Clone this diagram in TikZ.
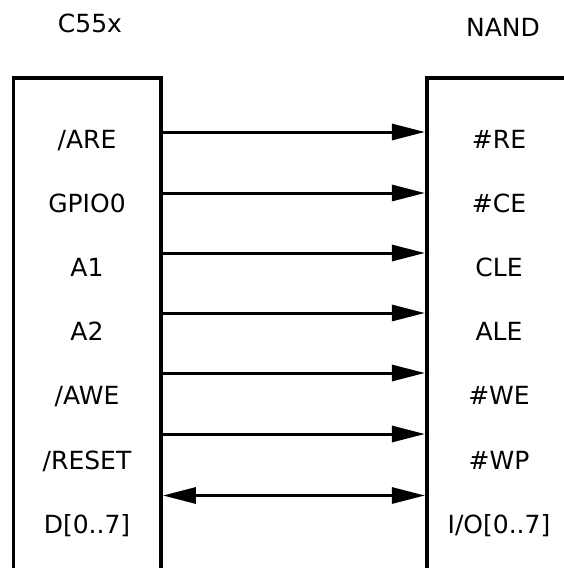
\documentclass[tikz,border=0pt]{standalone}
\usepackage{fontspec}
\setmainfont{DejaVu Sans}
\usetikzlibrary{arrows.meta}
\begin{document}
\begin{tikzpicture}[x=1pt,y=-1pt,
  chip/.style={draw, line width=3.6pt, rectangle, anchor=north west, inner sep=0pt,
               minimum width=147.6pt, minimum height=560pt},
  lbl/.style={anchor=base, inner sep=0pt, font=\fontsize{25}{30}\selectfont},
  head/.tip={Triangle[length=33pt,width=16pt]},
  sig/.style={line width=3pt, -head},
  bus/.style={line width=3pt, head-head}]
\useasboundingbox (0,0) rectangle (564,568);
\clip (0,0) rectangle (564,568);

% chip outlines (both run past the bottom edge)
\node[chip] (cpu)  at (11.7,75.9) {};
\node[chip] (nand) at (424.9,76.2) {};

% titles
\node[lbl] (tcpu)  at (90,32)  {C55x};
\node[lbl] (tnand) at (503,36) {NAND};

% pin labels
\foreach \i/\a/\b in {0/{/ARE}/{\#RE}, 1/{GPIO0}/{\#CE}, 2/{A1}/{CLE}, 3/{A2}/{ALE},
                      4/{/AWE}/{\#WE}, 5/{/RESET}/{\#WP}, 6/{D[0..7]}/{I/O[0..7]}} {
  \node[lbl] (cpin\i) at (87,148+64.2*\i)  {\a};
  \node[lbl] (npin\i) at (499,148+64.2*\i) {\b};
}

% control lines
\foreach \i/\y in {0/132, 1/193, 2/253, 3/313, 4/373, 5/434}
  \draw[sig] (cpu.east |- 0,\y) -- (nand.west |- 0,\y);

% data bus
\draw[bus] (cpu.east |- 0,495.5) -- (nand.west |- 0,495.5);
\end{tikzpicture}
\end{document}
